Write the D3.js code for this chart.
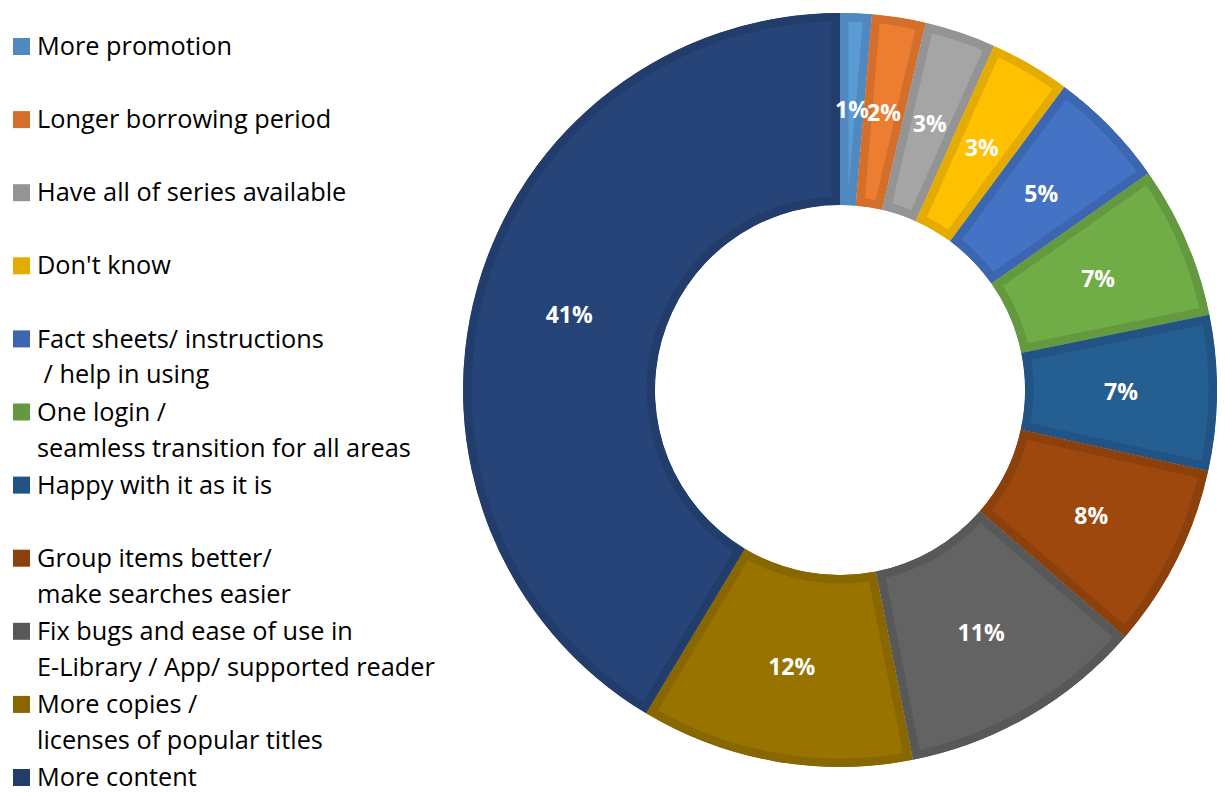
<!DOCTYPE html>
<html>
<head>
<meta charset="utf-8">
<script src="https://d3js.org/d3.v7.min.js"></script>
<style>
    body { margin: 0; background: #ffffff; }
    text { font-family: "Open Sans", Lato, sans-serif; }
</style>
</head>
<body>
<svg id="drawing_region"></svg>
<script>
// legend labels (each row is one entry, split into lines)
const categories = [
    ["More promotion"],
    ["Longer borrowing period"],
    ["Have all of series available"],
    ["Don't know"],
    ["Fact sheets/ instructions", " / help in using"],
    ["One login /", "seamless transition for all areas"],
    ["Happy with it as it is"],
    ["Group items better/", "make searches easier"],
    ["Fix bugs and ease of use in", "E-Library / App/ supported reader"],
    ["More copies /", "licenses of popular titles"],
    ["More content"]
];
// share of responses, percent
const values = [1.35, 2.3, 3.05, 3.45, 5.1, 6.55, 6.65, 7.9, 10.55, 11.7, 41.4];
const fills = ["#5b9bd5", "#ed7d31", "#a5a5a5", "#ffc000", "#4472c4", "#70ad47",
               "#255e91", "#9e480e", "#636363", "#997300", "#264478"];
const borders = ["#4f89bf", "#d46f2b", "#949494", "#e4ab00", "#3d66b0", "#64993f",
                 "#215385", "#8c400c", "#585858", "#886600", "#223d6b"];

const data = categories.map((c, i) => ({ lines: c, value: values[i], fill: fills[i], border: borders[i] }));

class DonutChart {

    constructor(config, data) {
        this.config = config;
        this.data = data;
        this.init();
    }

    init() {
        let self = this;

        self.svg = d3.select(self.config.parent)
            .attr('width', self.config.width)
            .attr('height', self.config.height);

        self.chart = self.svg.append('g')
            .attr('transform', `translate(${self.config.cx}, ${self.config.cy})`);

        self.pie = d3.pie()
            .value(d => d.value)
            .sort(null);

        self.arc = d3.arc()
            .innerRadius(self.config.inner)
            .outerRadius(self.config.outer);
    }

    render() {
        let self = this;
        const arcs = self.pie(self.data);

        // clip each slice to itself so its border only goes inward
        const defs = self.svg.append('defs');
        defs.selectAll('clipPath')
            .data(arcs)
            .enter()
            .append('clipPath')
            .attr('id', (d, i) => 'clip' + i)
            .append('path')
            .attr('d', self.arc);

        self.chart.selectAll('.slice')
            .data(arcs)
            .enter()
            .append('path')
            .attr('class', 'slice')
            .attr('d', self.arc)
            .attr('fill', d => d.data.fill)
            .attr('stroke', d => d.data.border)
            .attr('stroke-width', 17)
            .attr('stroke-linejoin', 'miter')
            .attr('clip-path', (d, i) => `url(#clip${i})`);

        self.chart.selectAll('.pct')
            .data(arcs)
            .enter()
            .append('text')
            .attr('class', 'pct')
            .attr('transform', d => `translate(${self.arc.centroid(d)})`)
            .attr('text-anchor', 'middle')
            .attr('dy', '0.36em')
            .attr('fill', '#ffffff')
            .style('font-weight', 'bold')
            .style('font-size', '23px')
            .text(d => d3.format('.0f')(d.data.value) + '%');

        // legend
        const legend = self.svg.append('g');
        const rows = legend.selectAll('g')
            .data(self.data)
            .enter()
            .append('g')
            .attr('transform', (d, i) => `translate(13, ${46 + i * 73.1})`);

        rows.append('rect')
            .attr('x', 0)
            .attr('y', -8)
            .attr('width', 17)
            .attr('height', 17)
            .attr('fill', d => d.border);

        rows.each(function (d) {
            const t = d3.select(this).append('text')
                .attr('x', 24)
                .attr('fill', '#000000')
                .style('font-size', '25.3px')
                .style('white-space', 'pre');
            d.lines.forEach((line, j) => {
                t.append('tspan')
                    .attr('x', 24)
                    .attr('y', j * 36)
                    .attr('dy', '0.36em')
                    .text(line);
            });
        });
    }
}

const config = {
    parent: '#drawing_region',
    width: 1225,
    height: 792,
    cx: 840,
    cy: 390,
    outer: 377,
    inner: 185
};

const donut = new DonutChart(config, data);
donut.render();
</script>
</body>
</html>
